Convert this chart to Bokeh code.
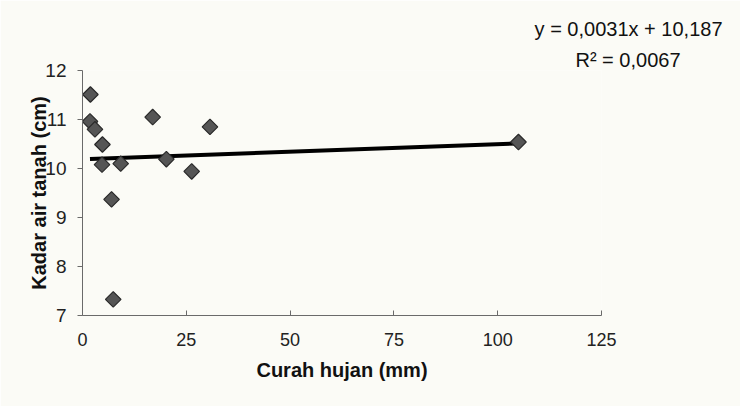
import numpy as np
from bokeh.plotting import figure
from bokeh.models import Range1d, FixedTicker, Title, ColumnDataSource
from bokeh.embed import file_html
from bokeh.resources import INLINE

# Data
curah_hujan = [1.9, 1.8, 3.0, 4.8, 4.7, 9.2, 7.0, 7.4, 16.9, 20.2, 26.3, 30.7, 105.0]
kadar_air = [11.51, 10.96, 10.80, 10.49, 10.08, 10.10, 9.37, 7.33, 11.05, 10.19, 9.94, 10.85, 10.54]
x_ticks = [0, 25, 50, 75, 100, 125]
y_ticks = [7, 8, 9, 10, 11, 12]
slope = 0.0031
intercept = 10.187
r_squared = 0.0067

FONT = "Liberation Sans"
BG = "#fbfbf6"

p = figure(width=740, height=406, output_backend="svg", toolbar_location=None,
           x_range=Range1d(0, 125), y_range=Range1d(7, 12),
           min_border_left=82, min_border_right=139, min_border_top=70, min_border_bottom=91)
p.background_fill_color = BG
p.border_fill_color = BG
p.outline_line_color = None
p.grid.visible = False

# x axis
xa = p.xaxis[0]
xa.ticker = FixedTicker(ticks=x_ticks)
xa.minor_tick_line_color = None
xa.major_tick_in = 5
xa.major_tick_out = 0
xa.axis_line_color = "#6a6a6a"
xa.major_tick_line_color = "#6a6a6a"
xa.major_label_text_font = FONT
xa.major_label_text_font_size = "18px"
xa.major_label_text_color = "#222222"
xa.major_label_standoff = 17
xa.axis_label = "Curah hujan (mm)"
xa.axis_label_text_font = FONT
xa.axis_label_text_font_size = "20px"
xa.axis_label_text_font_style = "bold"
xa.axis_label_text_color = "#111111"
xa.axis_label_standoff = 10

# y axis
ya = p.yaxis[0]
ya.ticker = FixedTicker(ticks=y_ticks)
ya.minor_tick_line_color = None
ya.major_tick_in = 0
ya.major_tick_out = 5
ya.axis_line_color = "#6a6a6a"
ya.major_tick_line_color = "#6a6a6a"
ya.major_label_text_font = FONT
ya.major_label_text_font_size = "19px"
ya.major_label_text_color = "#222222"
ya.major_label_standoff = 11
ya.axis_label = "Kadar air tanah (cm)"
ya.axis_label_text_font = FONT
ya.axis_label_text_font_size = "20px"
ya.axis_label_text_font_style = "bold"
ya.axis_label_text_color = "#111111"
ya.axis_label_standoff = -8

# trend line from the regression equation
xs = np.array([min(curah_hujan), max(curah_hujan)])
p.line(xs, slope * xs + intercept, line_color="#000000", line_width=4)

# points
src = ColumnDataSource(dict(x=curah_hujan, y=kadar_air))
p.scatter("x", "y", source=src, marker="square", angle=np.pi / 4, size=11,
          fill_color="#555555", line_color="#2a2a2a", line_width=1.2)

# equation text (placed above the frame, right of it)
eq = "y = " + f"{slope:.4f}".replace(".", ",") + "x + " + f"{intercept:.3f}".replace(".", ",")
r2 = "R\u00b2 = " + f"{r_squared:.4f}".replace(".", ",")
p.add_layout(Title(text=r2, align="right", offset=-79, standoff=0,
                   text_font=FONT, text_font_size="20px", text_font_style="normal",
                   text_color="#111111"), "above")
p.add_layout(Title(text=eq, align="right", offset=-121, standoff=14,
                   text_font=FONT, text_font_size="20px", text_font_style="normal",
                   text_color="#111111"), "above")

open("out.html", "w").write(file_html(p, INLINE))
